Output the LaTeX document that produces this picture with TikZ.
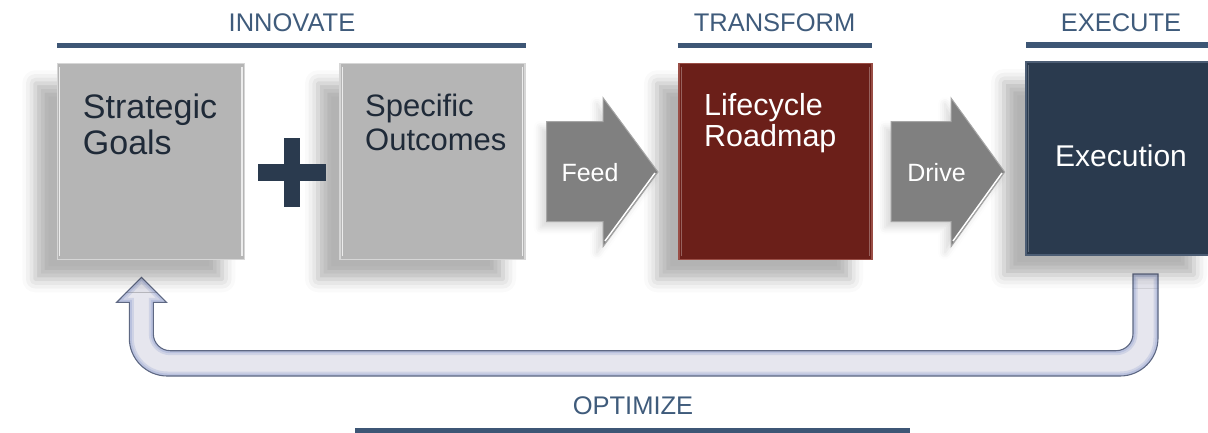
\documentclass[tikz,border=0pt]{standalone}
\usepackage{fontspec}
\setmainfont{Liberation Sans}
\usetikzlibrary{shadows.blur}
\definecolor{hdr}{HTML}{3F5B7B}
\definecolor{hdrline}{HTML}{3D5675}
\definecolor{boxgray}{HTML}{B5B5B5}
\definecolor{boxedge}{HTML}{D6D6D6}
\definecolor{navy}{HTML}{2A3A4E}
\definecolor{navyedge}{HTML}{4C5D74}
\definecolor{maroon}{HTML}{6B1F19}
\definecolor{maroonedge}{HTML}{9A4E46}
\definecolor{arrowgray}{HTML}{808080}
\definecolor{arrowedge}{HTML}{A6A6A6}
\definecolor{loopfill}{HTML}{E6E6EE}
\definecolor{loopglow}{HTML}{B9C1DE}
\definecolor{loopline}{HTML}{5E6883}
\definecolor{darktext}{HTML}{1F2A38}
\begin{document}
\begin{tikzpicture}[x=1pt,y=-1pt,
  hdrtext/.style={font=\fontsize{25.5}{28}\selectfont, text=hdr, inner sep=0pt, anchor=base},
  hdrbar/.style={draw=hdrline, line width=5.5pt},
  panel/.style={rectangle, inner sep=0pt, line width=1.2pt,
    blur shadow={shadow xshift=-22pt, shadow yshift=-20pt, shadow blur radius=13pt, shadow opacity=30}},
  graypanel/.style={panel, fill=boxgray, draw=boxedge},
  boxtext/.style={inner sep=0pt, anchor=base west},
  flowarrow/.style={fill=arrowgray, draw=arrowedge, line width=1pt,
    blur shadow={shadow xshift=-6pt, shadow yshift=-6pt, shadow blur radius=7pt, shadow opacity=15}},
  arrowtext/.style={font=\fontsize{25}{28}\selectfont, text=white, inner sep=0pt, anchor=base},
  bevel/.style={line width=1.4pt, draw=white, opacity=0.75}
]
\useasboundingbox (0,0) rectangle (1208,432);

% headers
\node[hdrtext] (hInnovate) at (292,31.7) {INNOVATE};
\node[hdrtext] (hTransform) at (774.5,31.7) {TRANSFORM};
\node[hdrtext] (hExecute) at (1121,31.7) {EXECUTE};
\node[hdrtext] (hOptimize) at (633,414.3) {OPTIMIZE};
\coordinate (bI1) at (57.3,45.5);  \coordinate (bI2) at (526,45.5);
\coordinate (bT1) at (677.7,45.5); \coordinate (bT2) at (872,45.5);
\coordinate (bE1) at (1026,45);    \coordinate (bE2) at (1212,45);
\coordinate (bO1) at (355,431);    \coordinate (bO2) at (910,431);
\draw[hdrbar] (bI1) -- (bI2);
\draw[hdrbar] (bT1) -- (bT2);
\draw[hdrbar] (bE1) -- (bE2);
\draw[hdrbar] (bO1) -- (bO2);

% feedback loop arrow
\def\looppath{(1133,274) -- (1158,274) -- (1158,338)
  .. controls (1158,359) and (1141,376) .. (1120,376)
  -- (167.3,376)
  .. controls (146.3,376) and (129.3,359) .. (129.3,338)
  -- (129.3,302.3) -- (116.7,302.3) -- (141.5,277.3) -- (166.5,302.3) -- (153.3,302.3)
  -- (153.3,333.7)
  .. controls (153.3,343.1) and (160.9,350.7) .. (170.3,350.7)
  -- (1116,350.7)
  .. controls (1125.4,350.7) and (1133,343.1) .. (1133,333.7)
  -- cycle}
\fill[loopfill] \looppath;
\begin{scope}
  \clip \looppath;
  \draw[loopglow, line width=9pt, opacity=0.5] \looppath;
  \draw[loopglow, line width=5pt] \looppath;
\end{scope}
\draw[loopline, line width=1.1pt] \looppath;

% boxes
\node[graypanel, minimum width=187pt, minimum height=196pt] (goals) at (150.8,161.3) {};
\node[graypanel, minimum width=185pt, minimum height=196pt] (outcomes) at (432.5,161.3) {};
\node[panel, fill=maroon, draw=maroonedge, minimum width=193pt, minimum height=196pt] (roadmap) at (775.5,161.3) {};
\node[panel, fill=navy, draw=navyedge, minimum width=190pt, minimum height=193pt] (execution) at (1121,158.5) {};

% bevel highlights
\draw[bevel] ([xshift=3pt,yshift=-4pt]goals.north west) -- ([xshift=3pt,yshift=4pt]goals.south west);
\draw[bevel] ([xshift=-3pt,yshift=-4pt]goals.north east) -- ([xshift=-3pt,yshift=4pt]goals.south east);
\draw[bevel] ([xshift=3pt,yshift=-4pt]outcomes.north west) -- ([xshift=3pt,yshift=4pt]outcomes.south west);
\draw[bevel] ([xshift=-3pt,yshift=-4pt]outcomes.north east) -- ([xshift=-3pt,yshift=4pt]outcomes.south east);
\draw[bevel, opacity=0.3] ([xshift=3pt,yshift=-4pt]roadmap.north west) -- ([xshift=3pt,yshift=4pt]roadmap.south west);
\draw[bevel, opacity=0.3] ([xshift=-3pt,yshift=-4pt]roadmap.north east) -- ([xshift=-3pt,yshift=4pt]roadmap.south east);
\draw[bevel, opacity=0.25] ([xshift=3pt,yshift=-4pt]execution.north west) -- ([xshift=3pt,yshift=4pt]execution.south west);

% plus sign
\fill[navy] (284,138) rectangle (300,207);
\fill[navy] (258,164) rectangle (326,181);

% box texts
\node[boxtext, text=darktext, font=\fontsize{34}{36}\selectfont] (tGoals) at (82.7,118)
  {\parbox[t]{150pt}{Strategic\\Goals}};
\node[boxtext, text=darktext, font=\fontsize{31}{34}\selectfont] (tOutcomes) at (365,116.7)
  {\parbox[t]{155pt}{Specific\\Outcomes}};
\node[boxtext, text=white, font=\fontsize{30.5}{31}\selectfont] (tRoadmap) at (704,115)
  {\parbox[t]{160pt}{Lifecycle\\Roadmap}};
\node[inner sep=0pt, anchor=base, text=white, font=\fontsize{30}{32}\selectfont] (tExecution) at (1121,166.7) {Execution};

% flow arrows
\path[flowarrow] (546.7,121.7) -- (603,121.7) -- (603,97.7) -- (658,172) -- (603,246.7) -- (603,221.7) -- (546.7,221.7) -- cycle;
\draw[line width=1.5pt, white] (605,241) -- (655,173);
\path[flowarrow] (891,121.7) -- (951,121.7) -- (951,98) -- (1004.7,172) -- (951,246.7) -- (951,221.7) -- (891,221.7) -- cycle;
\draw[line width=1.5pt, white] (953,241) -- (1002,173);
\node[arrowtext] (tFeed) at (590,181.7) {Feed};
\node[arrowtext] (tDrive) at (936.5,181.7) {Drive};
\end{tikzpicture}
\end{document}
